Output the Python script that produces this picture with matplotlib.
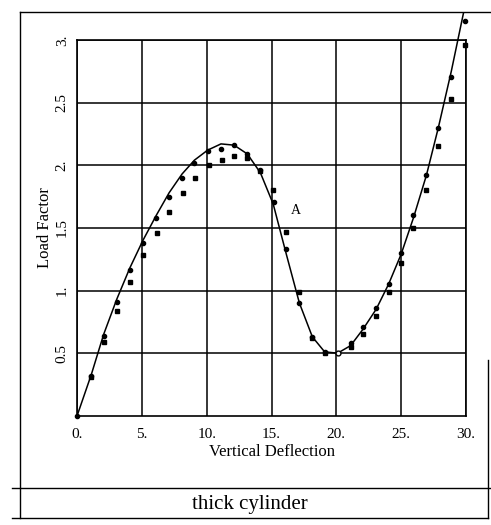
import matplotlib as mpl
mpl.use('Agg')
import matplotlib.pyplot as plt
from matplotlib.lines import Line2D

plt.rcParams['font.family'] = ['Liberation Serif', 'DejaVu Serif']

# solid curve
line_x = [0, 1.1, 2.05, 3.06, 4.07, 5.08, 6.11, 7.1, 8.1, 9.05, 10.07, 11.1, 12.11,
          13.13, 14.14, 15.13, 16.14, 17.15, 18.15, 19.1, 20.1, 21.1, 22.05, 23.07,
          24.03, 25.0, 25.95, 26.95, 27.87, 28.87, 29.8]
line_y = [0, 0.33, 0.65, 0.93, 1.18, 1.40, 1.60, 1.78, 1.93, 2.04, 2.12, 2.17, 2.16,
          2.09, 1.94, 1.69, 1.29, 0.90, 0.63, 0.51, 0.50, 0.56, 0.69, 0.85,
          1.05, 1.29, 1.58, 1.92, 2.30, 2.75, 3.21]

# dot markers
dot_x = [0, 1.1, 2.05, 3.06, 4.07, 5.08, 6.11, 7.1, 8.1, 9.05, 10.07, 11.13, 12.11,
         13.13, 14.14, 15.16, 16.14, 17.13, 18.15, 19.1, 21.1, 22.05, 23.07, 24.03,
         25.0, 25.95, 26.95, 27.87, 28.87, 29.9]
dot_y = [0, 0.32, 0.64, 0.91, 1.16, 1.38, 1.58, 1.75, 1.90, 2.02, 2.11, 2.13, 2.16,
         2.09, 1.96, 1.71, 1.33, 0.90, 0.63, 0.51, 0.58, 0.71, 0.86, 1.05,
         1.30, 1.60, 1.92, 2.30, 2.70, 3.15]
open_x = [20.1]
open_y = [0.50]

# square markers
sq_x = [1.1, 2.06, 3.08, 4.10, 5.11, 6.15, 7.06, 8.14, 9.09, 10.16, 11.16, 12.14,
        13.13, 14.14, 15.13, 16.14, 17.15, 18.15, 19.1, 21.1, 22.05, 23.07, 24.03,
        25.0, 25.95, 26.95, 27.87, 28.87, 29.96]
sq_y = [0.31, 0.59, 0.84, 1.07, 1.28, 1.46, 1.63, 1.78, 1.90, 2.00, 2.04, 2.07,
        2.06, 1.95, 1.80, 1.47, 0.99, 0.62, 0.50, 0.55, 0.65, 0.80, 0.99,
        1.22, 1.50, 1.80, 2.15, 2.53, 2.96]

xticks = [0, 5, 10, 15, 20, 25, 30]
xlabels = ['0.', '5.', '10.', '15.', '20.', '25.', '30.']
yticks = [0.5, 1, 1.5, 2, 2.5, 3]
ylabels = ['0.5', '1.', '1.5', '2.', '2.5', '3.']

fig = plt.figure(figsize=(4.91, 5.25), dpi=100)
ax = fig.add_axes([0.157, 0.208, 0.792, 0.716])

ax.plot(line_x, line_y, color='black', lw=1.1, clip_on=False, zorder=3)
ax.plot(sq_x, sq_y, 's', color='black', ms=3.3, clip_on=False, zorder=4)
ax.plot(dot_x, dot_y, 'o', color='black', ms=3.0, clip_on=False, zorder=5)
ax.plot(open_x, open_y, 'o', mfc='white', mec='black', mew=1, ms=3.5, clip_on=False, zorder=5)

ax.text(16.9, 1.64, 'A', fontsize=10, ha='center', va='center')

ax.set_xlim(0, 30)
ax.set_ylim(0, 3)
ax.set_xticks(xticks)
ax.set_xticklabels(xlabels, fontsize=11)
ax.set_yticks(yticks)
ax.set_yticklabels(ylabels, fontsize=11, rotation=90, va='center')
ax.tick_params(length=0, pad=9)
ax.tick_params(axis='y', pad=6)
ax.grid(True, color='black', lw=1.1)
for s in ax.spines.values():
    s.set_linewidth(1.2)

ax.set_xlabel('Vertical Deflection', fontsize=12, labelpad=2)
ax.set_ylabel('Load Factor', fontsize=12, labelpad=2)

# frame lines of the scanned page
W, H = 491.0, 525.0
def hline(y, x0, x1):
    fig.add_artist(Line2D([x0 / W, x1 / W], [1 - y / H, 1 - y / H], color='black', lw=1.0))
def vline(x, y0, y1):
    fig.add_artist(Line2D([x / W, x / W], [1 - y0 / H, 1 - y1 / H], color='black', lw=1.0))

hline(12, 20, 491)
vline(20, 12, 518)
hline(488, 12, 491)
hline(518, 12, 488)
vline(488, 360, 518)

fig.text(250 / W, 1 - 505 / H, 'thick cylinder', fontsize=15, ha='center', va='center')

plt.savefig('out.png', dpi=100)
